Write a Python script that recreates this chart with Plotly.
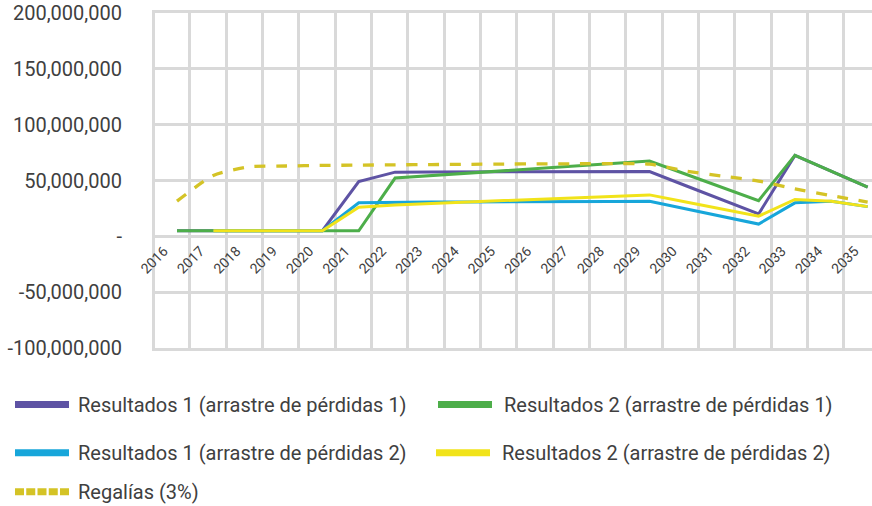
import plotly.graph_objects as go

# ---- data (values in millions) ----
years = [str(y) for y in range(2016, 2036)]
res1_arr1 = [5, 5, 5, 5, 5, 49, 57.5, 57.7, 57.8, 57.9, 58, 58, 58, 58, 45.3, 32.7, 20, 72.5, 58.3, 44]
res2_arr1 = [5, 5, 5, 5, 5, 5, 52.2, 54.4, 56.5, 58.7, 60.9, 63.1, 65.2, 67.4, 55.6, 43.8, 32, 72.5, 58.3, 44]
res1_arr2 = [None, 5, 5, 5, 5, 30, 30.5, 30.8, 30.8, 30.8, 31, 31.2, 31.3, 31.5, 24.7, 17.8, 11, 30, 31.5, 26.6]
res2_arr2 = [None, 5, 5, 5, 5, 26, 28.1, 29.5, 30.8, 32, 33.3, 34.5, 35.8, 37.1, 30.7, 24.4, 18, 33, 31.5, 26.6]
regalias = [31.5, 54.5, 62.3, 63, 63.5, 63.8, 64, 64.3, 64.5, 64.7, 64.9, 65, 65.2, 64.7, 58.5, 54, 49.5, 42.5, 36.5, 30.7]

series_names = [
    "Resultados 1 (arrastre de pérdidas 1)",
    "Resultados 2 (arrastre de pérdidas 1)",
    "Resultados 1 (arrastre de pérdidas 2)",
    "Resultados 2 (arrastre de pérdidas 2)",
    "Regalías (3%)",
]
y_tickvals = [-100e6, -50e6, 0, 50e6, 100e6, 150e6, 200e6]
y_ticktext = ["-100,000,000", "-50,000,000", "-", "50,000,000", "100,000,000", "150,000,000", "200,000,000"]

colors = ["#5E53A4", "#4DAE4A", "#17A6DA", "#F1E31A", "#D4C326"]
grid_col = "#D9D9D9"

def scale(vals):
    return [None if v is None else v * 1e6 for v in vals]

# ---- layout geometry ----
W, H = 872, 506
Y_MIN, Y_MAX = -100e6, 200e6
ML, MR = 152, 0
MT = 13
PH = 335
MB = H - MT - PH
PW = W - ML - MR
STEP = 36.35  # px per category

def px_x(px):
    return (px - ML) / PW

def px_y(py):
    return (MT + PH - py) / PH

fig = go.Figure()

series = [res1_arr1, res2_arr1, res1_arr2, res2_arr2]
for vals, name, col in zip(series, series_names[:4], colors[:4]):
    fig.add_trace(go.Scatter(x=years, y=scale(vals), name=name, mode="lines",
                             line=dict(color=col, width=3), showlegend=False))
fig.add_trace(go.Scatter(x=years, y=scale(regalias), name=series_names[4], mode="lines",
                         line=dict(color=colors[4], width=3.3, dash="11px,10.7px", shape="spline", smoothing=0.6),
                         showlegend=False))
# empty trace so the gridline-only overlay axis exists
fig.add_trace(go.Scatter(x=[], y=[], xaxis="x2", yaxis="y", showlegend=False, hoverinfo="skip"))

x0 = (ML - 177) / STEP
g0 = (ML - 153.3) / STEP
span = PW / STEP

font_fam = "Roboto, Noto Sans, sans-serif"
txt_col = "#404040"

fig.update_layout(
    width=W, height=H,
    margin=dict(l=ML, r=MR, t=MT, b=MB, pad=0),
    paper_bgcolor="white", plot_bgcolor="white",
    font=dict(family=font_fam, color=txt_col),
    showlegend=False,
    xaxis=dict(type="category", categoryorder="array", categoryarray=years,
               range=[x0, x0 + span], showgrid=False, zeroline=False, showline=False,
               ticks="", tickangle=-45, tickfont=dict(size=14, color=txt_col, family=font_fam),
               ticklabelshift=-13, ticklabelstandoff=3,
               anchor="free", position=(0 - Y_MIN) / (Y_MAX - Y_MIN)),
    xaxis2=dict(overlaying="x", range=[g0, g0 + span], dtick=1, tick0=0, showgrid=True,
                gridcolor=grid_col, gridwidth=3, showticklabels=False, ticks="",
                zeroline=False, showline=True, linecolor=grid_col, linewidth=3, mirror=True,
                anchor="y"),
    yaxis=dict(range=[Y_MIN, Y_MAX], tickmode="array", tickvals=y_tickvals, ticktext=y_ticktext,
               showgrid=True, gridcolor=grid_col, gridwidth=3, zeroline=False, showline=False,
               ticks="outside", ticklen=25, tickwidth=1, tickcolor="rgba(255,255,255,0)",
               tickfont=dict(size=20, color=txt_col, family=font_fam)),
)

# ---- legend (manual, two columns) ----
legend_items = [
    # (swatch x0, x1, y, text x, text y)
    (15, 69, 404.5, 76, 405),
    (438, 492, 404.5, 502, 405),
    (15, 69, 452.7, 76, 453),
    (436, 490, 452.7, 500, 453),
    (15, 69, 491.7, 76, 492),
]
for i, (sx0, sx1, sy, tx, ty) in enumerate(legend_items):
    dash = "9px,2.25px" if i == 4 else "solid"
    fig.add_shape(type="line", xref="paper", yref="paper",
                  x0=px_x(sx0), x1=px_x(sx1), y0=px_y(sy), y1=px_y(sy),
                  line=dict(color=colors[i], width=7, dash=dash))
    fig.add_annotation(xref="paper", yref="paper", x=px_x(tx), y=px_y(ty),
                       text=series_names[i], showarrow=False, xanchor="left", yanchor="middle",
                       font=dict(size=20, color=txt_col, family=font_fam))

fig.write_html("out.html", config={"displayModeBar": False},
               post_script="document.body.style.margin='0';document.body.style.overflow='hidden';")
